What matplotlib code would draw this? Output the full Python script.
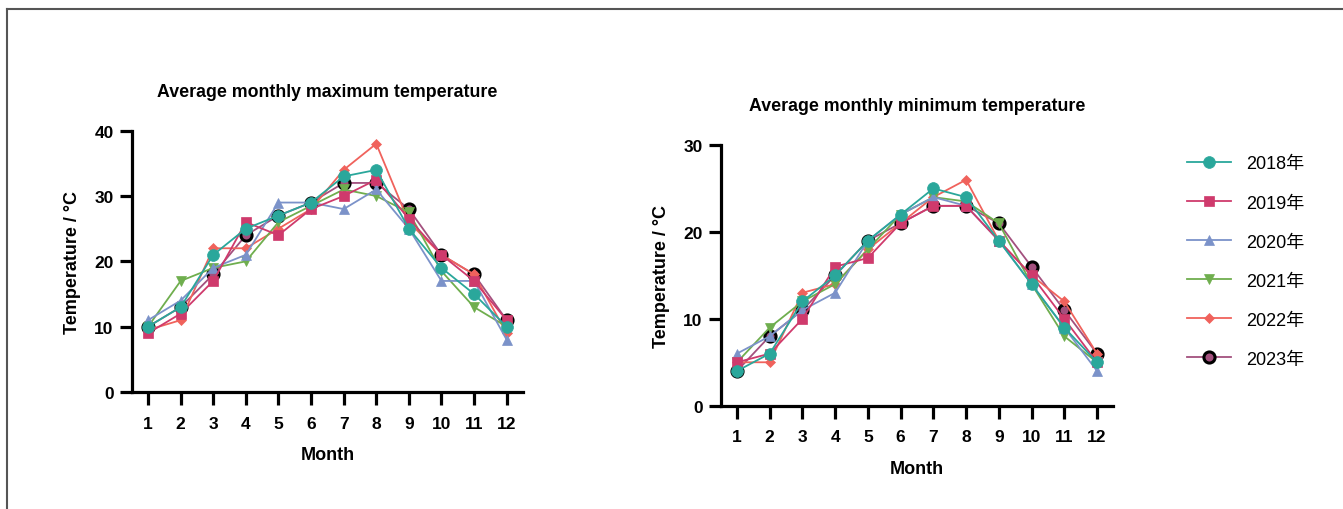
import matplotlib
matplotlib.use("Agg")
import matplotlib.pyplot as plt
from matplotlib.lines import Line2D

plt.rcParams['font.family'] = ['Liberation Sans', 'Noto Sans CJK SC', 'DejaVu Sans']

months = [1, 2, 3, 4, 5, 6, 7, 8, 9, 10, 11, 12]
month_labels = [str(m) for m in months]
years = ['2018年', '2019年', '2020年', '2021年', '2022年', '2023年']

max_2018 = [10, 13, 21, 25, 27, 29, 33, 34, 25, 19, 15, 10]
max_2019 = [9, 12, 17, 26, 24, 28, 30, 32.5, 26.5, 21, 17, 11]
max_2020 = [11, 14, 19, 21, 29, 29, 28, 31, 25, 17, 17, 8]
max_2021 = [10, 17, 19, 20, 26, 28.5, 31, 30, 27.5, 18.5, 13, 10]
max_2022 = [9.5, 11, 22, 22, 25, 28, 34, 38, 26, 21, 18, 9]
max_2023 = [10, 13, 18, 24, 27, 29, 32, 32, 28, 21, 18, 11]

min_2018 = [4, 6, 12, 15, 19, 22, 25, 24, 19, 14, 9, 5]
min_2019 = [5, 6, 10, 16, 17, 21, 23, 23, 19, 15, 10, 5]
min_2020 = [6, 8, 11, 13, 19, 22, 24, 23, 19, 14, 9, 4]
min_2021 = [5, 9, 12, 14, 18, 22, 24, 23.5, 21, 14, 8, 5]
min_2022 = [5, 5, 13, 14, 18, 21, 24, 26, 19, 15, 12, 6]
min_2023 = [4, 8, 11, 15, 19, 21, 23, 23, 21, 16, 11, 6]

max_series = [max_2018, max_2019, max_2020, max_2021, max_2022, max_2023]
min_series = [min_2018, min_2019, min_2020, min_2021, min_2022, min_2023]

styles = [
    dict(color='#2aa79b', marker='o', markersize=8.5, mfc='#2aa79b', mec='#2aa79b', mew=0.5),
    dict(color='#cf3a6c', marker='s', markersize=7.5, mfc='#cf3a6c', mec='#cf3a6c', mew=0.5),
    dict(color='#7b92c9', marker='^', markersize=7, mfc='#7b92c9', mec='#7b92c9', mew=0.5),
    dict(color='#6fae4e', marker='v', markersize=7, mfc='#6fae4e', mec='#6fae4e', mew=0.5),
    dict(color='#f0625c', marker='D', markersize=5, mfc='#f0625c', mec='#f0625c', mew=0.5),
    dict(color='#a3507e', marker='o', markersize=8, mfc='#a3507e', mec='black', mew=2.2),
]

fig = plt.figure(figsize=(13.43, 5.10), dpi=100)
ax1 = fig.add_axes([0.0981, 0.2294, 0.2913, 0.5124])
ax2 = fig.add_axes([0.5366, 0.2025, 0.2924, 0.5112])

def draw(ax, series, title, ymax, yticks):
    handles = []
    for i, (vals, st) in enumerate(zip(series, styles)):
        h, = ax.plot(months, vals, linewidth=1.3, zorder=10 - i, label=years[i], **st)
        handles.append(h)
    ax.set_xlim(0.5, 12.5)
    ax.set_ylim(0, ymax)
    ax.set_xticks(months)
    ax.set_xticklabels(month_labels)
    ax.set_yticks(yticks)
    for s in ['top', 'right']:
        ax.spines[s].set_visible(False)
    for s in ['left', 'bottom']:
        ax.spines[s].set_linewidth(2.3)
    ax.tick_params(axis='both', width=2.3, length=9, labelsize=12.5)
    ax.tick_params(axis='x', pad=8)
    ax.tick_params(axis='y', pad=4)
    for lab in ax.get_xticklabels() + ax.get_yticklabels():
        lab.set_fontweight('bold')
    ax.set_title(title, fontsize=12.8, fontweight='bold', pad=25)
    ax.set_xlabel('Month', fontsize=13, fontweight='bold', labelpad=11)
    ax.set_ylabel('Temperature / °C', fontsize=13, fontweight='bold')
    ax.yaxis.set_label_coords(-0.13, 0.5)
    return handles

handles = draw(ax1, max_series, 'Average monthly maximum temperature', 40, [0, 10, 20, 30, 40])
draw(ax2, min_series, 'Average monthly minimum temperature', 30, [0, 10, 20, 30])

fig.legend(handles, years, loc='upper left', bbox_to_anchor=(0.872, 0.725),
           frameon=False, fontsize=13, handlelength=2.4, handletextpad=0.85,
           labelspacing=1.22)

# frame lines of the original image (top and left)
ytop = 1 - 9.5 / 510
xleft = 7 / 1343
fig.add_artist(Line2D([xleft, 1], [ytop, ytop], transform=fig.transFigure, color='#555555', lw=1.5))
fig.add_artist(Line2D([xleft, xleft], [0, ytop], transform=fig.transFigure, color='#555555', lw=1.5))

fig.savefig('out.png', dpi=100)
